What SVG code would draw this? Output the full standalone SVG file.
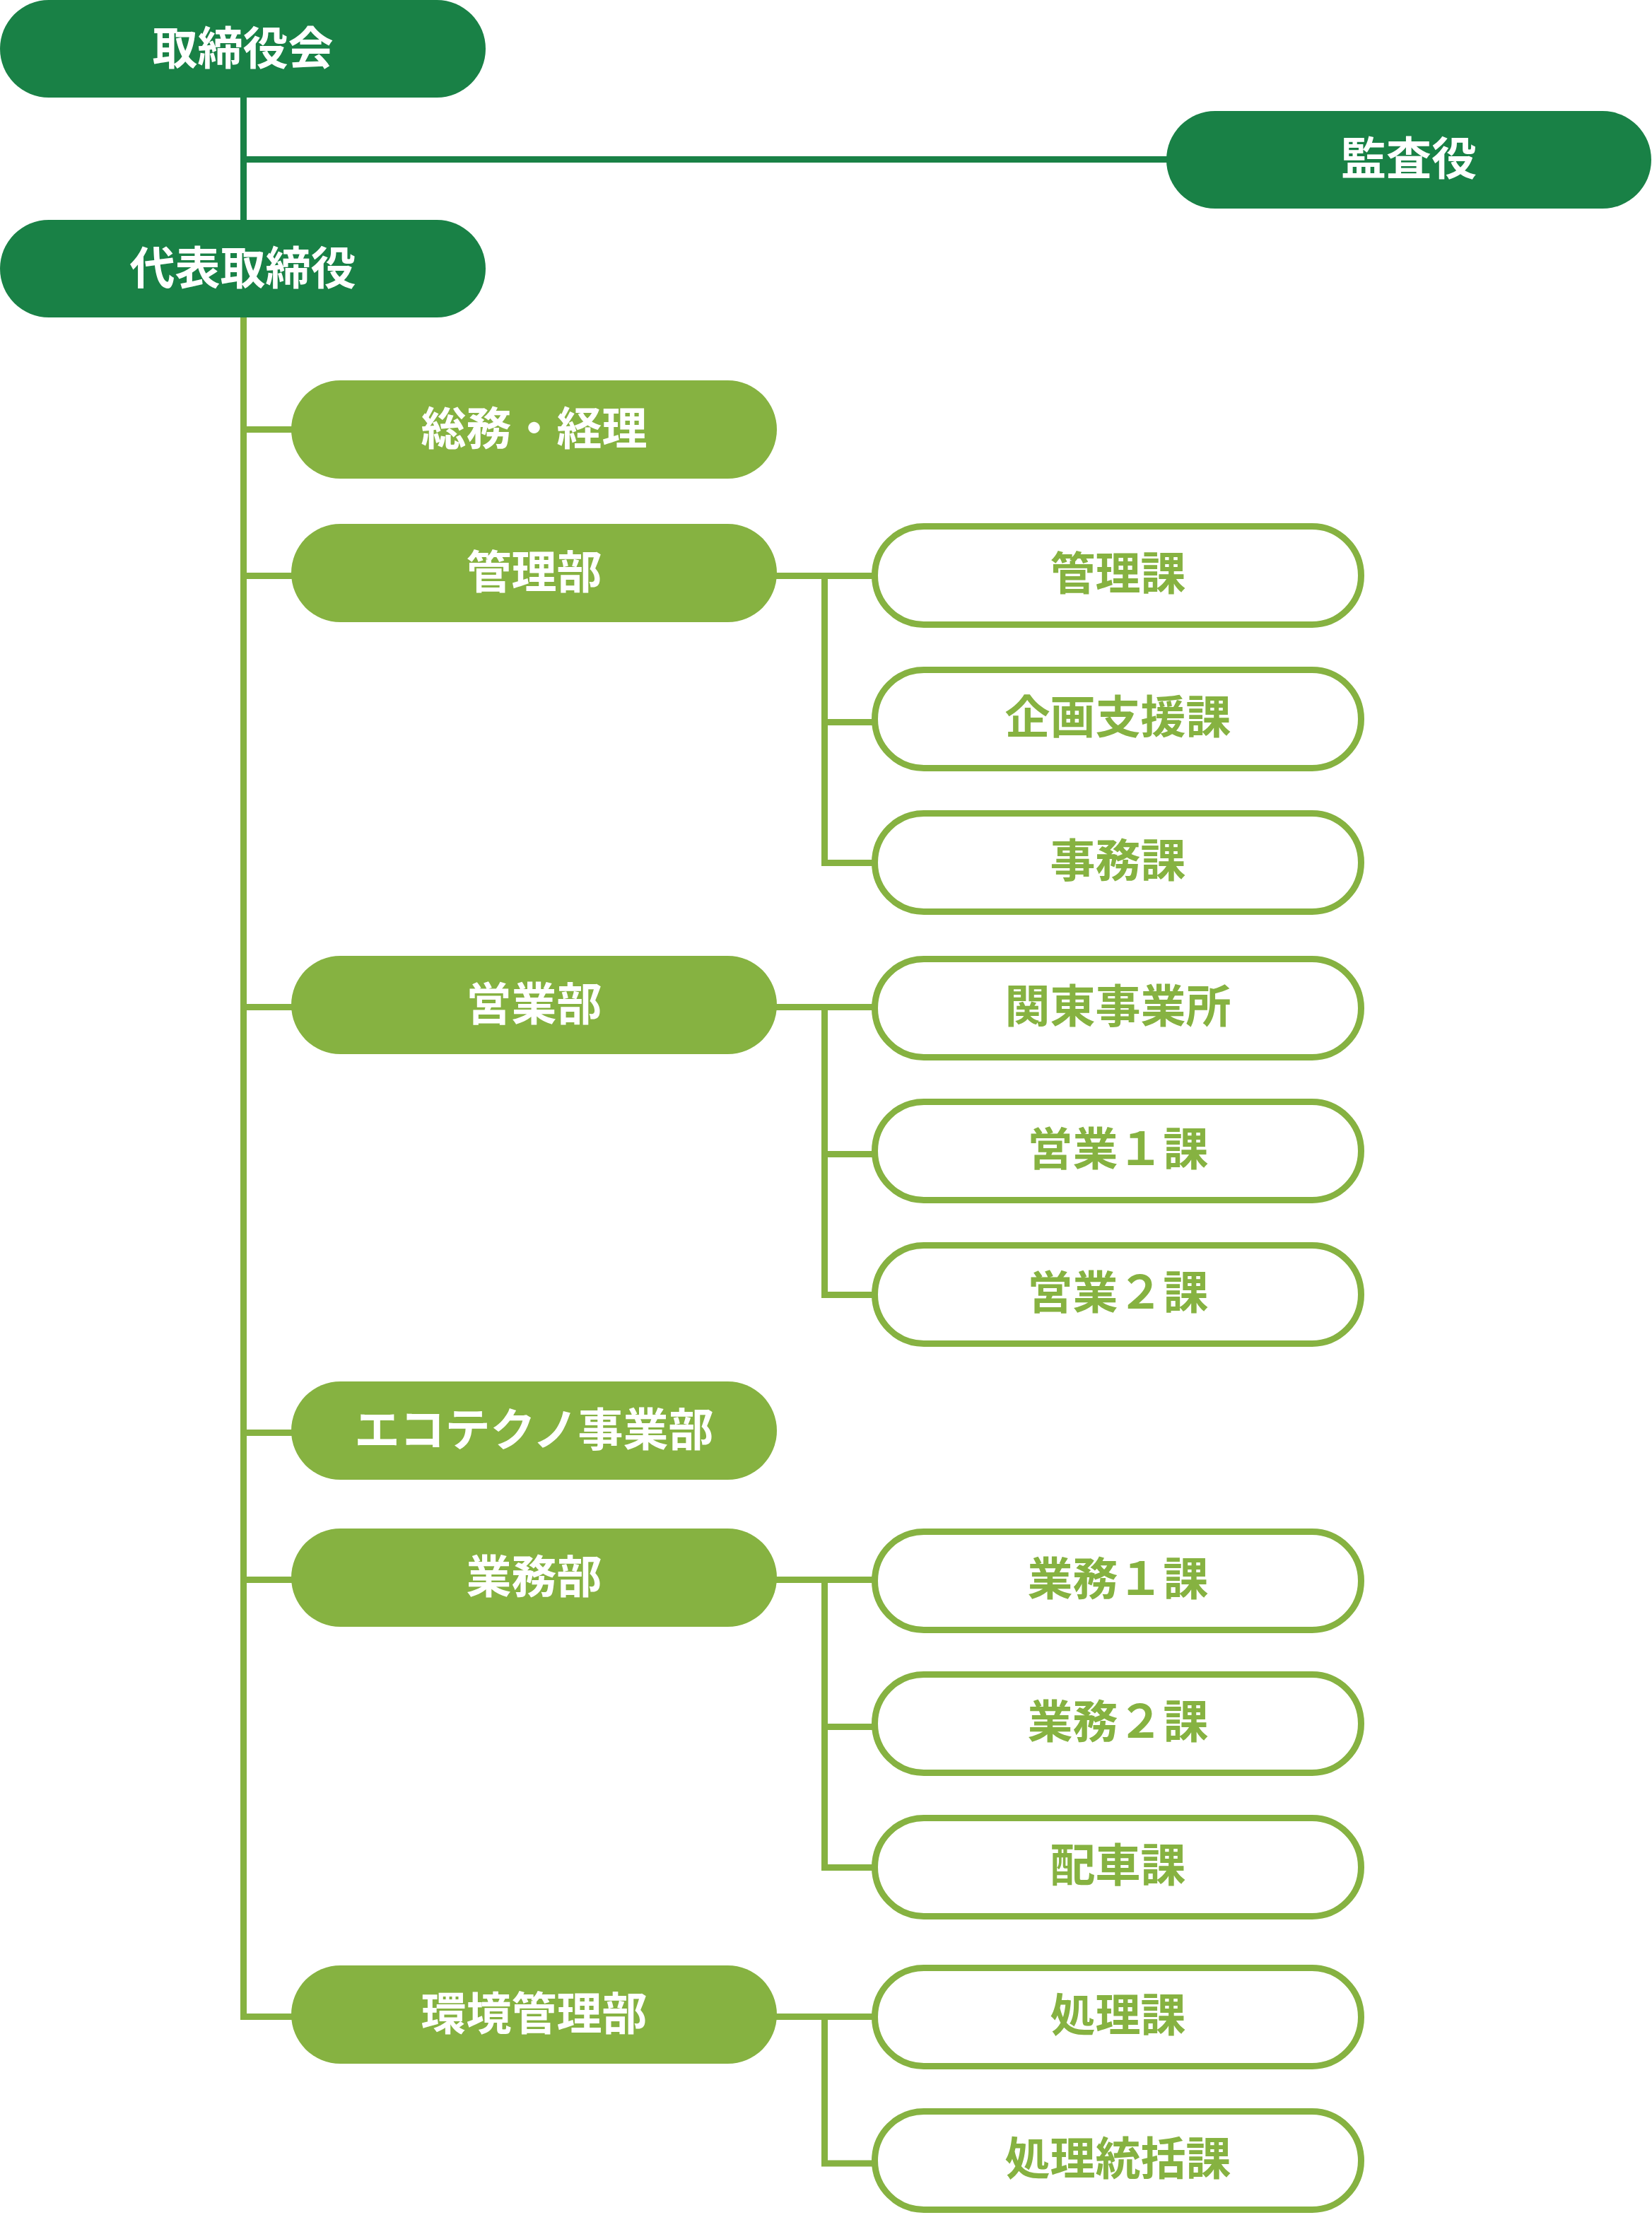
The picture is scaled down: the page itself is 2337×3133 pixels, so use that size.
<svg xmlns="http://www.w3.org/2000/svg" width="2337" height="3133" viewBox="0 0 2337 3133">
<style>
.dk{fill:#198146}
.lt{fill:#86B241}
.sub{fill:#ffffff;stroke:#86B241;stroke-width:9}
.t{font-family:"Noto Sans CJK JP","Noto Sans CJK SC",sans-serif;font-weight:700;font-size:64px;text-anchor:middle}
.w{fill:#ffffff}
.g{fill:#86B241}
.cd{stroke:#198146;stroke-width:9;fill:none}
.cl{stroke:#86B241;stroke-width:9;fill:none}
</style>
<rect width="2337" height="3133" fill="#ffffff"/>
<g id="connectors">
<path class="cd" d="M344.5 130 V319 M344.5 225.5 H1660"/>
<path class="cl" d="M344.5 449 V2857"/>
<path class="cl" d="M340 607.5 H420 M340 814.5 H420 M340 1424.5 H420 M340 2026.5 H420 M340 2234.5 H420 M340 2852.5 H420"/>
<path class="cl" d="M1090 814.5 H1240 M1166.5 810 V1225 M1166.5 1021.5 H1240 M1166.5 1220.5 H1240"/>
<path class="cl" d="M1090 1424.5 H1240 M1166.5 1420 V1836 M1166.5 1632.5 H1240 M1166.5 1831.5 H1240"/>
<path class="cl" d="M1090 2234.5 H1240 M1166.5 2230 V2646 M1166.5 2442.5 H1240 M1166.5 2641.5 H1240"/>
<path class="cl" d="M1090 2852.5 H1240 M1166.5 2848 V3064.5 M1166.5 3060 H1240"/>
</g>
<g id="n-torishimariyakukai"><rect class="dk" x="0" y="0" width="687" height="138" rx="69"/><text class="t w" x="343.5" y="91">取締役会</text></g>
<g id="n-kansayaku"><rect class="dk" x="1650" y="157" width="686" height="138" rx="69"/><text class="t w" x="1993" y="247">監査役</text></g>
<g id="n-daihyo"><rect class="dk" x="0" y="311" width="687" height="138" rx="69"/><text class="t w" x="343.5" y="402">代表取締役</text></g>

<g id="n-somu"><rect class="lt" x="412" y="538" width="687" height="139" rx="69.5"/><text class="t w" x="755.5" y="629">総務・経理</text></g>
<g id="n-kanribu"><rect class="lt" x="412" y="741" width="687" height="139" rx="69.5"/><text class="t w" x="755.5" y="832">管理部</text></g>
<g id="n-eigyobu"><rect class="lt" x="412" y="1352" width="687" height="139" rx="69.5"/><text class="t w" x="755.5" y="1443">営業部</text></g>
<g id="n-ecotechno"><rect class="lt" x="412" y="1954" width="687" height="139" rx="69.5"/><text class="t w" x="755.5" y="2045">エコテクノ事業部</text></g>
<g id="n-gyomubu"><rect class="lt" x="412" y="2162" width="687" height="139" rx="69.5"/><text class="t w" x="755.5" y="2253">業務部</text></g>
<g id="n-kankyo"><rect class="lt" x="412" y="2780" width="687" height="139" rx="69.5"/><text class="t w" x="755.5" y="2871">環境管理部</text></g>

<g id="n-kanrika"><rect class="sub" x="1237.5" y="744.5" width="688" height="139" rx="69.5"/><text class="t g" x="1581.5" y="834">管理課</text></g>
<g id="n-kikaku"><rect class="sub" x="1237.5" y="947.5" width="688" height="139" rx="69.5"/><text class="t g" x="1581.5" y="1037">企画支援課</text></g>
<g id="n-jimuka"><rect class="sub" x="1237.5" y="1150.5" width="688" height="139" rx="69.5"/><text class="t g" x="1581.5" y="1240">事務課</text></g>
<g id="n-kanto"><rect class="sub" x="1237.5" y="1356.5" width="688" height="139" rx="69.5"/><text class="t g" x="1581.5" y="1446">関東事業所</text></g>
<g id="n-eigyo1"><rect class="sub" x="1237.5" y="1558.5" width="688" height="139" rx="69.5"/><text class="t g" x="1581.5" y="1648">営業１課</text></g>
<g id="n-eigyo2"><rect class="sub" x="1237.5" y="1761.5" width="688" height="139" rx="69.5"/><text class="t g" x="1581.5" y="1851">営業２課</text></g>
<g id="n-gyomu1"><rect class="sub" x="1237.5" y="2166.5" width="688" height="139" rx="69.5"/><text class="t g" x="1581.5" y="2256">業務１課</text></g>
<g id="n-gyomu2"><rect class="sub" x="1237.5" y="2368.5" width="688" height="139" rx="69.5"/><text class="t g" x="1581.5" y="2458">業務２課</text></g>
<g id="n-haisha"><rect class="sub" x="1237.5" y="2571.5" width="688" height="139" rx="69.5"/><text class="t g" x="1581.5" y="2661">配車課</text></g>
<g id="n-shori"><rect class="sub" x="1237.5" y="2783.5" width="688" height="139" rx="69.5"/><text class="t g" x="1581.5" y="2873">処理課</text></g>
<g id="n-shoritokatsu"><rect class="sub" x="1237.5" y="2986.5" width="688" height="139" rx="69.5"/><text class="t g" x="1581.5" y="3076">処理統括課</text></g>
</svg>
